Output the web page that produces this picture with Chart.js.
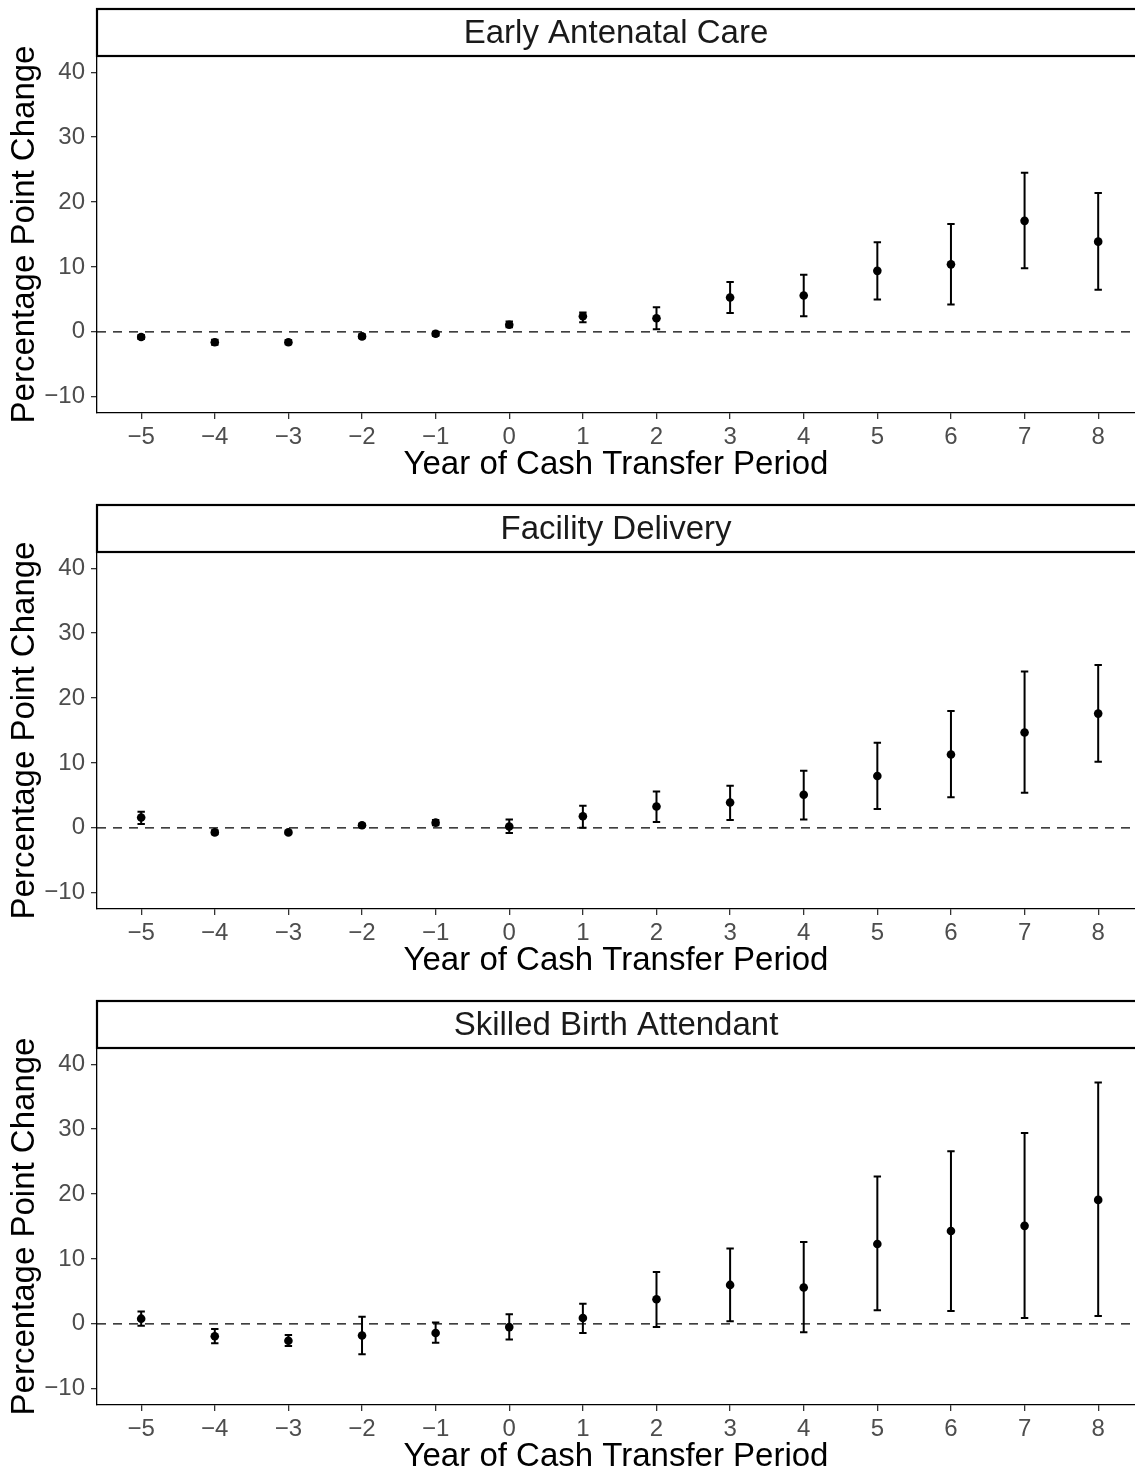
<!DOCTYPE html>
<html>
<head>
<meta charset="utf-8">
<title>Event study: cash transfer period</title>
<script src="https://cdn.jsdelivr.net/npm/chart.js@4.4.1/dist/chart.umd.min.js"></script>
<style>
  html, body { margin: 0; padding: 0; background: #fff; overflow: hidden; }
  canvas { display: block; }
</style>
</head>
<body>
<canvas id="panelAnc" width="1135" height="496"></canvas>
<canvas id="panelFacility" width="1135" height="496"></canvas>
<canvas id="panelSba" width="1135" height="496"></canvas>
<script>
// x categories and y ticks
const years = [-5, -4, -3, -2, -1, 0, 1, 2, 3, 4, 5, 6, 7, 8];
const yTicks = [-10, 0, 10, 20, 30, 40];
const refLine = 0;

// Early Antenatal Care
const ancEst = [-0.8, -1.6, -1.6, -0.7, -0.3, 1.1, 2.4, 2.1, 5.3, 5.6, 9.4, 10.4, 17.1, 13.9];
const ancLo  = [-1.1, -2.0, -1.9, -1.0, -0.6, 0.7, 1.5, 0.4, 2.9, 2.4, 5.0, 4.2, 9.8, 6.5];
const ancHi  = [-0.5, -1.2, -1.3, -0.4, 0.0, 1.6, 3.0, 3.8, 7.7, 8.8, 13.8, 16.6, 24.5, 21.4];

// Facility Delivery
const fdEst = [1.6, -0.7, -0.7, 0.4, 0.8, 0.2, 1.8, 3.3, 3.9, 5.1, 8.0, 11.3, 14.7, 17.6];
const fdLo  = [0.6, -1.0, -0.9, 0.2, 0.4, -0.8, 0.0, 0.9, 1.2, 1.3, 2.9, 4.7, 5.4, 10.2];
const fdHi  = [2.5, -0.4, -0.5, 0.6, 1.2, 1.3, 3.4, 5.6, 6.5, 8.8, 13.1, 18.0, 24.1, 25.1];

// Skilled Birth Attendant
const sbEst = [0.8, -1.9, -2.6, -1.8, -1.4, -0.5, 0.9, 3.8, 6.0, 5.6, 12.3, 14.3, 15.1, 19.1];
const sbLo  = [-0.3, -3.0, -3.4, -4.7, -2.9, -2.4, -1.4, -0.5, 0.4, -1.3, 2.1, 2.0, 0.9, 1.2];
const sbHi  = [1.9, -0.8, -1.7, 1.1, 0.2, 1.5, 3.1, 8.0, 11.6, 12.6, 22.7, 26.6, 29.4, 37.2];

(function () {
    'use strict';

    const FONT = '"Liberation Sans", Arial, Helvetica, sans-serif';
    Chart.defaults.font.family = FONT;

    const fmt = v => String(v).replace('-', '\u2212');

    function makePanel(canvasId, title, est, lo, hi) {
        const ctx = document.getElementById(canvasId);
        if (!ctx) return;

        // dashed zero line, error bars and the facet strip
        const decor = {
            id: 'decor_' + canvasId,
            beforeDatasetsDraw(chart) {
                const c = chart.ctx;
                const a = chart.chartArea;
                const xs = chart.scales.x, ys = chart.scales.y;
                c.save();
                const y0 = ys.getPixelForValue(refLine);
                c.strokeStyle = '#000';
                c.lineWidth = 1.4;
                c.setLineDash([9, 7]);
                c.beginPath();
                c.moveTo(a.left, y0);
                c.lineTo(a.right, y0);
                c.stroke();
                c.setLineDash([]);

                c.lineWidth = 2;
                lo.forEach((v, i) => {
                    const px = xs.getPixelForValue(years[i]);
                    const pLo = ys.getPixelForValue(v);
                    const pHi = ys.getPixelForValue(hi[i]);
                    c.beginPath();
                    c.moveTo(px, pLo); c.lineTo(px, pHi);
                    c.moveTo(px - 3.7, pLo); c.lineTo(px + 3.7, pLo);
                    c.moveTo(px - 3.7, pHi); c.lineTo(px + 3.7, pHi);
                    c.stroke();
                });
                c.restore();
            },
            afterDraw(chart) {
                const c = chart.ctx;
                const a = chart.chartArea;
                const top = 9;
                c.save();
                c.fillStyle = '#fff';
                c.fillRect(a.left, top, chart.width - a.left + 4, a.top - top);
                c.strokeStyle = '#000';
                c.lineWidth = 2.2;
                c.strokeRect(a.left, top, chart.width - a.left + 4, a.top - top);
                c.fillStyle = '#1a1a1a';
                c.font = `33px ${FONT}`;
                c.textAlign = 'center';
                c.textBaseline = 'middle';
                c.fillText(title, (a.left + chart.width) / 2, (top + a.top) / 2 + 1);
                c.restore();
            }
        };

        return new Chart(ctx, {
            type: 'scatter',
            data: {
                datasets: [{
                    data: years.map((x, i) => ({ x: x, y: est[i] })),
                    backgroundColor: '#000',
                    borderWidth: 0,
                    pointRadius: 4.3,
                    pointHoverRadius: 4.3
                }]
            },
            options: {
                responsive: false,
                animation: false,
                events: [],
                layout: { autoPadding: false, padding: { top: 56, left: 0, right: 0, bottom: 15 } },
                plugins: { legend: { display: false }, tooltip: { enabled: false } },
                scales: {
                    x: {
                        type: 'linear',
                        min: -5.6,
                        max: 8.5,
                        afterBuildTicks: s => { s.ticks = years.map(v => ({ value: v })); },
                        afterFit: s => { s.paddingLeft = 0; s.paddingRight = 0; s.height = 68; },
                        ticks: { callback: fmt, color: '#4d4d4d', font: { size: 24, lineHeight: 1 }, padding: 6, maxRotation: 0, autoSkip: false },
                        grid: { drawOnChartArea: false, drawTicks: true, tickLength: 6, tickColor: '#333', lineWidth: 1.3 },
                        border: { display: true, color: '#000', width: 1.3 },
                        title: { display: true, text: 'Year of Cash Transfer Period', color: '#000', font: { size: 33, lineHeight: 1 }, padding: 0 }
                    },
                    y: {
                        min: -12.5,
                        max: 42.5,
                        afterBuildTicks: s => { s.ticks = yTicks.map(v => ({ value: v })); },
                        afterFit: s => { s.width = 97; },
                        ticks: { callback: fmt, color: '#4d4d4d', font: { size: 24, lineHeight: 1 }, padding: 6 },
                        grid: { drawOnChartArea: false, drawTicks: true, tickLength: 6, tickColor: '#333', lineWidth: 1.3 },
                        border: { display: true, color: '#000', width: 1.3 },
                        title: { display: true, text: 'Percentage Point Change', color: '#000', font: { size: 33, lineHeight: 1 }, padding: { top: 8, bottom: 0 } }
                    }
                }
            },
            plugins: [decor]
        });
    }

    makePanel('panelAnc', 'Early Antenatal Care', ancEst, ancLo, ancHi);
    makePanel('panelFacility', 'Facility Delivery', fdEst, fdLo, fdHi);
    makePanel('panelSba', 'Skilled Birth Attendant', sbEst, sbLo, sbHi);
})();
</script>
</body>
</html>
